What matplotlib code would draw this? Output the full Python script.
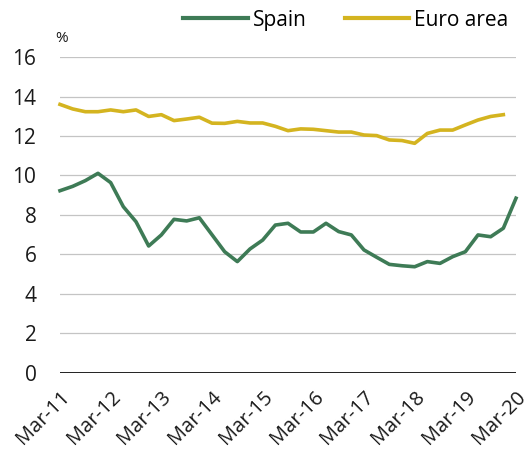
import matplotlib
matplotlib.use("Agg")
import matplotlib.pyplot as plt

plt.rcParams['font.family'] = ['Open Sans', 'DejaVu Sans']

# quarterly, Mar-11 .. Mar-20
spain = [9.23, 9.45, 9.74, 10.11, 9.64, 8.42, 7.66, 6.43, 6.99, 7.78,
         7.7, 7.86, 7.0, 6.14, 5.64, 6.28, 6.73, 7.49, 7.58, 7.14,
         7.14, 7.58, 7.16, 6.99, 6.23, 5.86, 5.5, 5.43, 5.38, 5.64,
         5.55, 5.89, 6.14, 6.99, 6.9, 7.33, 8.85]
# quarterly, Mar-11 .. Dec-19
euro = [13.6, 13.37, 13.23, 13.23, 13.32, 13.23, 13.32, 12.99, 13.08, 12.78,
        12.86, 12.95, 12.65, 12.64, 12.74, 12.66, 12.66, 12.49, 12.27, 12.36,
        12.34, 12.27, 12.2, 12.2, 12.05, 12.02, 11.8, 11.77, 11.63, 12.13,
        12.3, 12.3, 12.56, 12.81, 12.99, 13.08]
tick_labels = ['Mar-11', 'Mar-12', 'Mar-13', 'Mar-14', 'Mar-15',
               'Mar-16', 'Mar-17', 'Mar-18', 'Mar-19', 'Mar-20']
y_ticks = [0, 2, 4, 6, 8, 10, 12, 14, 16]

green = '#3e7b56'
yellow = '#d4b420'

fig = plt.figure(figsize=(5.3, 4.59), dpi=100)
ax = fig.add_axes([0.1132, 0.1874, 0.8604, 0.6884])

ax.plot(range(len(spain)), spain, color=green, lw=2.6, label='Spain',
        solid_joinstyle='round', clip_on=False, zorder=3)
ax.plot(range(len(euro)), euro, color=yellow, lw=2.6, label='Euro area',
        solid_joinstyle='round', clip_on=False, zorder=3)

ax.set_xlim(0, 36)
ax.set_ylim(0, 16)
ax.set_yticks(y_ticks)
ax.set_xticks(range(0, 37, 4))
ax.set_xticklabels(tick_labels, rotation=45, ha='right', va='top',
                   rotation_mode='anchor')
ax.tick_params(axis='both', length=0, labelsize=15, colors='#1a1a1a')
ax.tick_params(axis='x', labelsize=14.5, pad=10)
ax.tick_params(axis='y', pad=17)

for s in ax.spines.values():
    s.set_visible(False)
ax.grid(axis='y', color='#c4c4c4', lw=0.9)
ax.axhline(0, color='#222222', lw=1.4, zorder=2)

ax.text(-0.4, 16.55, '%', fontsize=11, color='#1a1a1a', ha='left', va='bottom')

leg = fig.legend(loc='upper right', bbox_to_anchor=(0.995, 1.02), ncol=2,
                 frameon=False, fontsize=15, handlelength=3.1,
                 columnspacing=1.8, handletextpad=0.25)
for l in leg.get_lines():
    l.set_linewidth(3)

fig.savefig('out.png', dpi=100)
